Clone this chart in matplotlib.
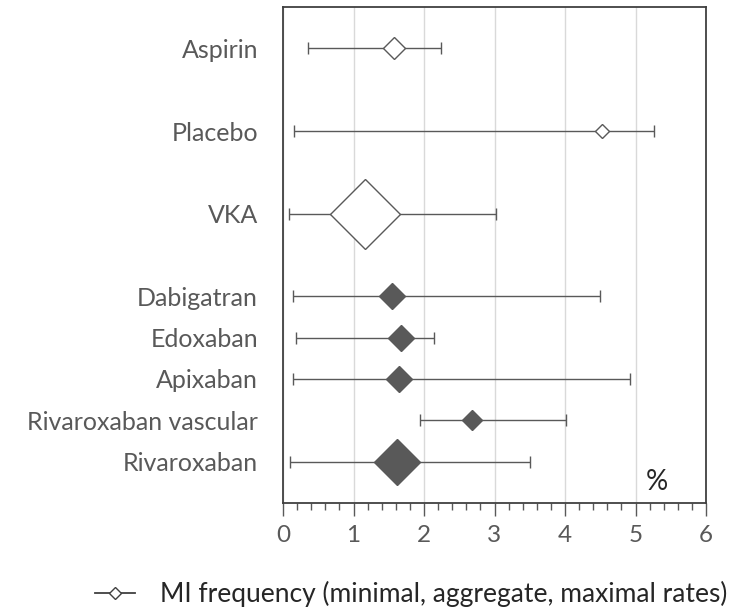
import matplotlib
matplotlib.use("Agg")
import matplotlib.pyplot as plt
from matplotlib.lines import Line2D
from matplotlib.ticker import MultipleLocator

# MI frequency (%): minimal, aggregate, maximal rates
drugs = ["Aspirin", "Placebo", "VKA", "Dabigatran", "Edoxaban",
         "Apixaban", "Rivaroxaban vascular", "Rivaroxaban"]
row_pos = [10, 8, 6, 4, 3, 2, 1, 0]
min_rate = [0.35, 0.16, 0.08, 0.14, 0.19, 0.14, 1.95, 0.10]
agg_rate = [1.57, 4.52, 1.16, 1.55, 1.68, 1.64, 2.68, 1.61]
max_rate = [2.24, 5.26, 3.02, 4.49, 2.14, 4.92, 4.02, 3.50]
# diamond size reflects the weight of each group
weight = [11.5, 7, 36, 13.3, 13.7, 13.3, 10, 23.7]
filled = [False, False, False, True, True, True, True, True]

grey = "#595959"
plt.rcParams["font.family"] = ["Lato", "DejaVu Sans"]

fig = plt.figure(figsize=(7.44, 6.07), dpi=100)
ax = fig.add_axes([283 / 744, 1 - 503 / 607, (706 - 283) / 744, (503 - 7) / 607])

for i in range(len(drugs)):
    y = row_pos[i]
    ax.errorbar(agg_rate[i], y,
                xerr=[[agg_rate[i] - min_rate[i]], [max_rate[i] - agg_rate[i]]],
                fmt="none", ecolor=grey, elinewidth=1, capsize=4, capthick=1, zorder=2)
    ax.plot(agg_rate[i], y, marker="D", markersize=weight[i],
            markerfacecolor=grey if filled[i] else "white",
            markeredgecolor=grey, markeredgewidth=1, linestyle="none", zorder=3)

ax.set_xlim(0, 6)
ax.set_ylim(-1, 11)
ax.xaxis.set_major_locator(MultipleLocator(1))
ax.xaxis.set_minor_locator(MultipleLocator(0.2))
ax.grid(axis="x", which="major", color="#d9d9d9", linewidth=1)
ax.set_axisbelow(True)

ax.set_yticks(row_pos)
ax.set_yticklabels(drugs)
ax.tick_params(axis="y", length=0, pad=18, labelsize=18, labelcolor=grey)
ax.tick_params(axis="x", which="major", length=9, width=1, color=grey,
               labelsize=17.5, labelcolor=grey, pad=7)
ax.tick_params(axis="x", which="minor", length=5, width=1, color=grey)

for side in ["left", "right", "top", "bottom"]:
    ax.spines[side].set_color("#404040")
    ax.spines[side].set_linewidth(1.3)

ax.text(5.3, -0.5, "%", fontsize=20, color="#262626", ha="center", va="center")

handle = Line2D([], [], color="#404040", linewidth=1.3, marker="D", markersize=6,
                markerfacecolor="white", markeredgecolor="#404040")
fig.legend([handle], ["MI frequency (minimal, aggregate, maximal rates)"],
           loc="center", bbox_to_anchor=(411 / 744, 1 - 594 / 607), frameon=False,
           fontsize=19, labelcolor="#262626", handlelength=1.5, handletextpad=0.95)

fig.savefig("out.png", dpi=100)
